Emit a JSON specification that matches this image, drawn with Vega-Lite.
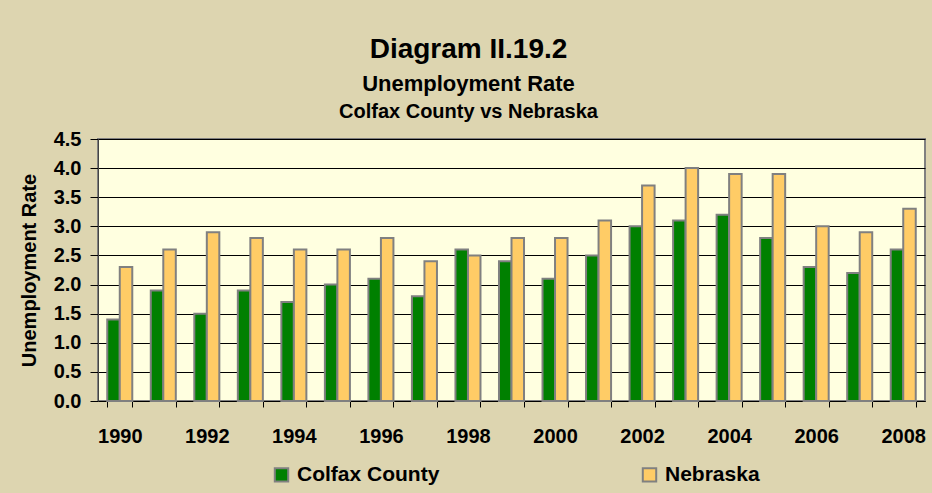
{
  "$schema": "https://vega.github.io/schema/vega-lite/v6.json",
  "width": 827,
  "height": 262,
  "autosize": {"type": "none"},
  "padding": {"left": 98, "top": 139, "right": 7, "bottom": 92},
  "background": "#ddd5b0",
  "config": {
    "font": "Liberation Sans",
    "view": {"fill": "#ffffe0", "stroke": "#808080", "strokeWidth": 2},
    "axis": {"labelColor": "#000", "titleColor": "#000", "labelFontWeight": "bold", "titleFontWeight": "bold", "labelFont": "Liberation Sans", "titleFont": "Liberation Sans"}
  },
  "title": {
    "text": "Diagram II.19.2",
    "subtitle": "Unemployment Rate",
    "anchor": "middle",
    "font": "Liberation Sans",
    "subtitleFont": "Liberation Sans",
    "fontSize": 28,
    "subtitleFontSize": 22,
    "fontWeight": "bold",
    "subtitleFontWeight": "bold",
    "color": "#000",
    "subtitleColor": "#000",
    "subtitlePadding": 10,
    "offset": 6,
    "dx": -43
  },
  "data": {
    "values": [
      {"year": 1990, "series": "Colfax County", "rate": 1.4}, {"year": 1990, "series": "Nebraska", "rate": 2.3},
      {"year": 1991, "series": "Colfax County", "rate": 1.9}, {"year": 1991, "series": "Nebraska", "rate": 2.6},
      {"year": 1992, "series": "Colfax County", "rate": 1.5}, {"year": 1992, "series": "Nebraska", "rate": 2.9},
      {"year": 1993, "series": "Colfax County", "rate": 1.9}, {"year": 1993, "series": "Nebraska", "rate": 2.8},
      {"year": 1994, "series": "Colfax County", "rate": 1.7}, {"year": 1994, "series": "Nebraska", "rate": 2.6},
      {"year": 1995, "series": "Colfax County", "rate": 2.0}, {"year": 1995, "series": "Nebraska", "rate": 2.6},
      {"year": 1996, "series": "Colfax County", "rate": 2.1}, {"year": 1996, "series": "Nebraska", "rate": 2.8},
      {"year": 1997, "series": "Colfax County", "rate": 1.8}, {"year": 1997, "series": "Nebraska", "rate": 2.4},
      {"year": 1998, "series": "Colfax County", "rate": 2.6}, {"year": 1998, "series": "Nebraska", "rate": 2.5},
      {"year": 1999, "series": "Colfax County", "rate": 2.4}, {"year": 1999, "series": "Nebraska", "rate": 2.8},
      {"year": 2000, "series": "Colfax County", "rate": 2.1}, {"year": 2000, "series": "Nebraska", "rate": 2.8},
      {"year": 2001, "series": "Colfax County", "rate": 2.5}, {"year": 2001, "series": "Nebraska", "rate": 3.1},
      {"year": 2002, "series": "Colfax County", "rate": 3.0}, {"year": 2002, "series": "Nebraska", "rate": 3.7},
      {"year": 2003, "series": "Colfax County", "rate": 3.1}, {"year": 2003, "series": "Nebraska", "rate": 4.0},
      {"year": 2004, "series": "Colfax County", "rate": 3.2}, {"year": 2004, "series": "Nebraska", "rate": 3.9},
      {"year": 2005, "series": "Colfax County", "rate": 2.8}, {"year": 2005, "series": "Nebraska", "rate": 3.9},
      {"year": 2006, "series": "Colfax County", "rate": 2.3}, {"year": 2006, "series": "Nebraska", "rate": 3.0},
      {"year": 2007, "series": "Colfax County", "rate": 2.2}, {"year": 2007, "series": "Nebraska", "rate": 2.9},
      {"year": 2008, "series": "Colfax County", "rate": 2.6}, {"year": 2008, "series": "Nebraska", "rate": 3.3}
    ]
  },
  "layer": [
    {
      "mark": {"type": "bar", "stroke": "#808080", "strokeWidth": 2},
      "encoding": {
        "x": {
          "field": "year", "type": "ordinal",
          "scale": {"paddingInner": 0.425, "paddingOuter": 0.2125},
          "axis": {
            "title": null, "labelAngle": 0, "grid": false,
            "tickBand": "extent", "tickSize": 6, "tickColor": "#000",
            "domainColor": "#000", "domainWidth": 1,
            "labelFontSize": 20, "labelPadding": 19,
            "labelExpr": "datum.value % 2 == 0 ? datum.label : ''"
          }
        },
        "xOffset": {"field": "series", "type": "nominal", "sort": ["Colfax County", "Nebraska"], "scale": {"paddingInner": 0}},
        "y": {
          "field": "rate", "type": "quantitative",
          "scale": {"domain": [0, 4.5], "nice": false},
          "axis": {
            "title": "Unemployment Rate", "titleFontSize": 20, "titlePadding": 14,
            "values": [0, 0.5, 1, 1.5, 2, 2.5, 3, 3.5, 4, 4.5],
            "format": ".1f", "labelFontSize": 20, "labelPadding": 9,
            "tickSize": 8, "tickColor": "#000", "domainColor": "#444",
            "grid": true, "gridColor": "#000", "gridWidth": 1, "gridOpacity": 1
          }
        },
        "color": {
          "field": "series", "type": "nominal",
          "scale": {"domain": ["Colfax County", "Nebraska"], "range": ["#008000", "#ffcc66"]},
          "legend": {
            "title": null, "orient": "none", "legendX": 173, "legendY": 325,
            "direction": "horizontal", "columns": 2, "columnPadding": 198,
            "symbolType": "square", "symbolSize": 180, "symbolStrokeColor": "#808080", "symbolStrokeWidth": 2,
            "symbolOpacity": 1, "labelFontSize": 21, "labelFontWeight": "bold", "labelColor": "#000",
            "labelFont": "Liberation Sans", "labelOffset": 5
          }
        }
      }
    },
    {
      "mark": {"type": "tick", "opacity": 0},
      "encoding": {
        "x": {
          "field": "year", "type": "ordinal",
          "axis": {
            "orient": "top", "title": "Colfax County vs Nebraska", "titleFontSize": 20,
            "titleX": 370, "titleY": -22, "titleAlign": "center", "titleBaseline": "alphabetic",
            "labels": false, "ticks": false, "domain": false, "grid": false
          }
        }
      }
    }
  ],
  "resolve": {"axis": {"x": "independent"}}
}
